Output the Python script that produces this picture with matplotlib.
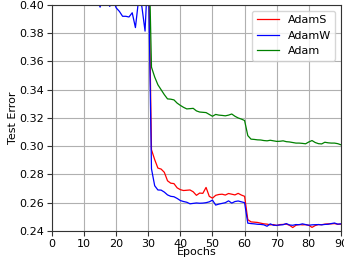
import numpy as np
import matplotlib
matplotlib.use('Agg')
import matplotlib.pyplot as plt

epochs = np.arange(0, 91)

# test error per epoch (values above 0.40 are off the top of the plot)
adams = [0.85, 0.70, 0.62, 0.58, 0.55, 0.53, 0.51, 0.50, 0.49, 0.48,
         0.47, 0.465, 0.46, 0.455, 0.45, 0.445, 0.44, 0.44, 0.435, 0.43,
         0.43, 0.425, 0.425, 0.42, 0.42, 0.418, 0.42, 0.415, 0.416, 0.413,
         0.45, 0.2975, 0.2905, 0.2845, 0.2838, 0.2815, 0.2755, 0.2738, 0.2735, 0.2705,
         0.2692, 0.2686, 0.2688, 0.2690, 0.2677, 0.2652, 0.2668, 0.2666, 0.2708, 0.2645,
         0.2632, 0.2652, 0.2658, 0.2660, 0.2654, 0.2665, 0.2660, 0.2655, 0.2666, 0.2654,
         0.2645, 0.2480, 0.2464, 0.2462, 0.2460, 0.2455, 0.2450, 0.2448, 0.2443, 0.2445,
         0.2438, 0.2445, 0.2446, 0.2448, 0.2440, 0.2424, 0.2440, 0.2445, 0.2443, 0.2444,
         0.2440, 0.2425, 0.2438, 0.2445, 0.2444, 0.2448, 0.2450, 0.2450, 0.2452, 0.2447,
         0.2448]

adamw = [0.80, 0.66, 0.58, 0.54, 0.51, 0.49, 0.47, 0.46, 0.45, 0.44,
         0.43, 0.425, 0.42, 0.41, 0.405, 0.3985, 0.408, 0.404, 0.399, 0.404,
         0.398, 0.3955, 0.392, 0.392, 0.3915, 0.3945, 0.384, 0.404, 0.399, 0.3815,
         0.43, 0.284, 0.272, 0.269, 0.2689, 0.2675, 0.2655, 0.2645, 0.2642, 0.263,
         0.2615, 0.2608, 0.2603, 0.2592, 0.2595, 0.2598, 0.2596, 0.2597, 0.2600, 0.2606,
         0.2618, 0.2583, 0.2590, 0.2595, 0.2600, 0.2613, 0.2597, 0.2608, 0.2612, 0.2606,
         0.2600, 0.2455, 0.2452, 0.2450, 0.2447, 0.2446, 0.2443, 0.2433, 0.2450, 0.2440,
         0.2440, 0.2442, 0.2444, 0.2452, 0.2442, 0.2440, 0.2445, 0.2444, 0.2450, 0.2445,
         0.2440, 0.2443, 0.2444, 0.2445, 0.2443, 0.2446, 0.2447, 0.2452, 0.2456, 0.2448,
         0.2450]

adam = [0.88, 0.72, 0.64, 0.60, 0.57, 0.55, 0.53, 0.52, 0.51, 0.50,
        0.49, 0.48, 0.475, 0.47, 0.465, 0.46, 0.455, 0.45, 0.45, 0.445,
        0.44, 0.44, 0.435, 0.435, 0.43, 0.43, 0.428, 0.425, 0.425, 0.422,
        0.46, 0.356, 0.349, 0.3435, 0.340, 0.3365, 0.3335, 0.3333, 0.3328, 0.3305,
        0.3289, 0.3275, 0.3264, 0.3266, 0.3268, 0.3250, 0.3242, 0.3240, 0.3238, 0.3225,
        0.3212, 0.3225, 0.3220, 0.3218, 0.3215, 0.3220, 0.3228, 0.3212, 0.3200, 0.3192,
        0.3182, 0.3075, 0.3050, 0.3048, 0.3045, 0.3044, 0.3040, 0.3038, 0.3042, 0.3038,
        0.3034, 0.3035, 0.3038, 0.3032, 0.3030, 0.3026, 0.3022, 0.3022, 0.3020, 0.3017,
        0.3030, 0.3040, 0.3026, 0.3018, 0.3016, 0.3028, 0.3024, 0.3022, 0.3022, 0.3018,
        0.3010]

fig = plt.figure(figsize=(3.44, 2.63), dpi=100)
ax = fig.add_axes([0.151, 0.122, 0.840, 0.859])

ax.plot(epochs, adams, color='r', lw=0.9, label='AdamS')
ax.plot(epochs, adamw, color='b', lw=0.9, label='AdamW')
ax.plot(epochs, adam, color='g', lw=0.9, label='Adam')

ax.set_xlim(0, 90)
ax.set_ylim(0.24, 0.40)
ax.set_xticks(np.arange(0, 91, 10))
ax.set_yticks(np.arange(0.24, 0.401, 0.02))
ax.tick_params(labelsize=8, color='#333333', pad=2)
for s in ax.spines.values():
    s.set_color('#333333')
ax.grid(True, color='#b0b0b0', lw=0.8)
ax.set_xlabel('Epochs', fontsize=8, labelpad=-1)
ax.set_ylabel('Test Error', fontsize=8, labelpad=1)
ax.legend(loc='upper right', fontsize=8)

fig.savefig('out.png', dpi=100)
